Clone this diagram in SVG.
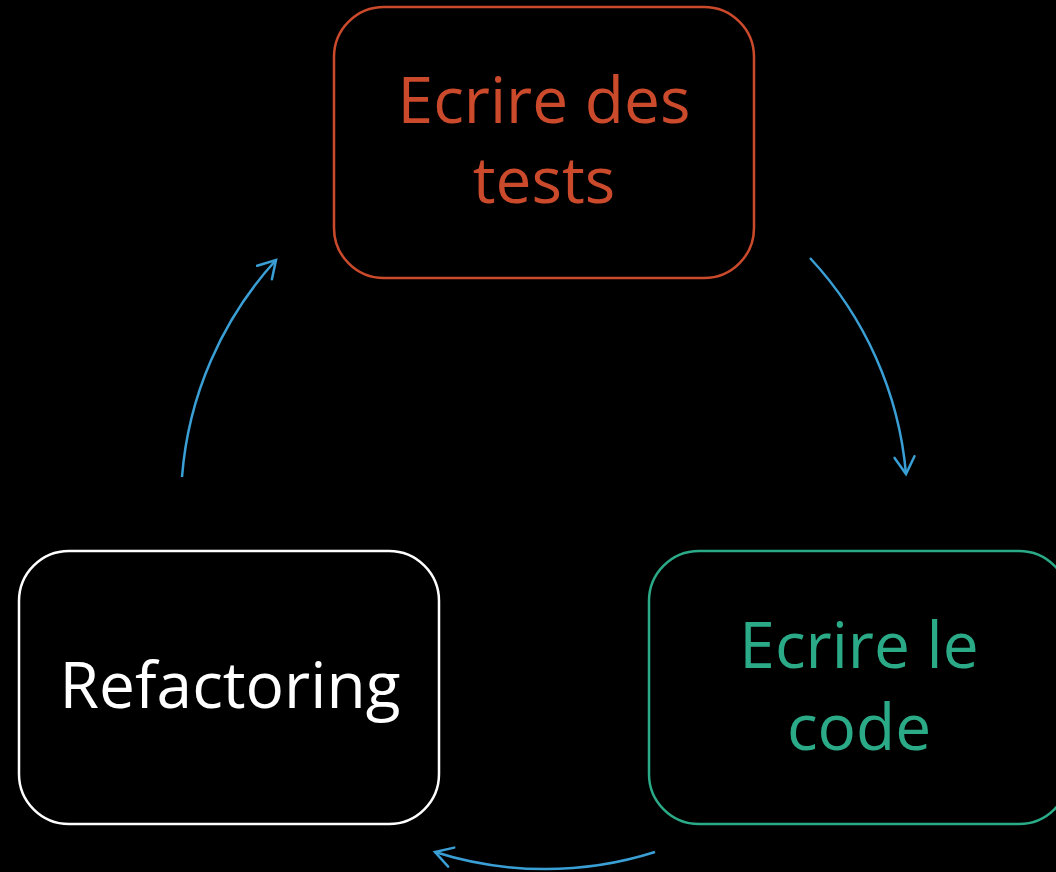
<svg xmlns="http://www.w3.org/2000/svg" width="1056" height="872" viewBox="0 0 1056 872">
<defs>
<style>
.box{fill:#000;stroke-width:2.5}
.lbl{font-family:"Open Sans","Noto Sans","Liberation Sans",sans-serif;font-size:64px;text-anchor:middle}
.conn{fill:none;stroke:#3A9FD4;stroke-width:2.5}
</style>
<marker id="arr" markerUnits="userSpaceOnUse" markerWidth="40" markerHeight="40" viewBox="-25 -20 40 40" refX="0" refY="0" orient="auto">
<path d="M-17,-10 L0,0 L-17,10" fill="none" stroke="#3A9FD4" stroke-width="2.5" stroke-linecap="round" stroke-linejoin="miter"/>
</marker>
</defs>
<rect width="1056" height="872" fill="#000"/>
<g id="connectors">
<path class="conn" d="M810,258 A363,363 0 0 1 906,474" marker-end="url(#arr)"/>
<path class="conn" d="M655,852 A363,363 0 0 1 435,852" marker-end="url(#arr)"/>
<path class="conn" d="M182,477 A363,363 0 0 1 276,260" marker-end="url(#arr)"/>
</g>
<g id="node-tests">
<rect class="box" x="334" y="7" width="420" height="271" rx="50" stroke="#CB4A2C"/>
<text class="lbl" fill="#CB4A2C"><tspan x="544" y="123">Ecrire des</tspan><tspan x="544" y="203">tests</tspan></text>
</g>
<g id="node-code">
<rect class="box" x="649" y="551" width="420" height="273" rx="50" stroke="#2BAA88"/>
<text class="lbl" fill="#2BAA88"><tspan x="859" y="668">Ecrire le</tspan><tspan x="859" y="750">code</tspan></text>
</g>
<g id="node-refactoring">
<rect class="box" x="19" y="551" width="420" height="273" rx="50" stroke="#FFFFFF"/>
<text class="lbl" fill="#FFFFFF" x="230" y="708">Refactoring</text>
</g>
</svg>
